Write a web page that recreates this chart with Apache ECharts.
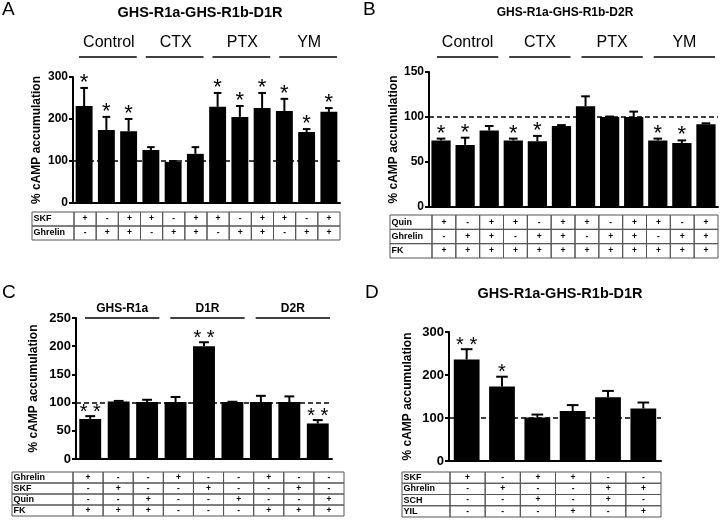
<!DOCTYPE html>
<html><head><meta charset="utf-8">
<script src="https://cdn.jsdelivr.net/npm/echarts@6/dist/echarts.min.js"></script>
<style>html,body{margin:0;padding:0;background:#fff}#c{width:722px;height:520px}</style>
</head><body><div id="c"></div>
<script>
const FONT = 'Arial, "Liberation Sans", sans-serif';

// ---------- Panel A ----------
const aTitle = 'GHS-R1a-GHS-R1b-D1R';
const aGroups = ['Control', 'CTX', 'PTX', 'YM'];
const aCategories = ['Ctrl SKF','Ctrl Ghrelin','Ctrl SKF+Ghrelin','CTX SKF','CTX Ghrelin','CTX SKF+Ghrelin','PTX SKF','PTX Ghrelin','PTX SKF+Ghrelin','YM SKF','YM Ghrelin','YM SKF+Ghrelin'];
const aValues = [231, 174, 171, 126, 98, 117, 229, 205, 226, 219, 169, 217];
const aErrors = [43, 31, 29, 7, 2, 16, 33, 26, 36, 29, 7, 9];
const aSignif = ['*','*','*','','','','*','*','*','*','*','*'];
const aYTicks = [0, 100, 200, 300];
const aRowNames = ['SKF', 'Ghrelin'];
const aRowSKF     = ['+','-','+','+','-','+','+','-','+','+','-','+'];
const aRowGhrelin = ['-','+','+','-','+','+','-','+','+','-','+','+'];

// ---------- Panel B ----------
const bTitle = 'GHS-R1a-GHS-R1b-D2R';
const bGroups = ['Control', 'CTX', 'PTX', 'YM'];
const bCategories = ['Ctrl Quin','Ctrl Ghrelin','Ctrl Quin+Ghrelin','CTX Quin','CTX Ghrelin','CTX Quin+Ghrelin','PTX Quin','PTX Ghrelin','PTX Quin+Ghrelin','YM Quin','YM Ghrelin','YM Quin+Ghrelin'];
const bValues = [74, 69, 85, 74, 73, 90, 112, 100, 100, 74, 71, 92];
const bErrors = [2, 8, 5, 2, 6, 1, 11, 0.5, 6, 2, 3, 1];
const bSignif = ['*','*','','*','*','','','','','*','*',''];
const bYTicks = [0, 50, 100, 150];
const bRowNames = ['Quin', 'Ghrelin', 'FK'];
const bRowQuin    = ['+','-','+','+','-','+','+','-','+','+','-','+'];
const bRowGhrelin = ['-','+','+','-','+','+','-','+','+','-','+','+'];
const bRowFK      = ['+','+','+','+','+','+','+','+','+','+','+','+'];

// ---------- Panel C ----------
const cGroups = ['GHS-R1a', 'D1R', 'D2R'];
const cCategories = ['R1a Ghrelin','R1a SKF','R1a Quin','D1R Ghrelin','D1R SKF','D1R Quin','D2R Ghrelin','D2R SKF','D2R Quin'];
const cValues = [71, 102, 101, 101, 200, 101, 101, 101, 63];
const cErrors = [5, 1, 4, 9, 7, 0.5, 11, 10, 6];
const cSignif = ['**','','','','**','','','','**'];
const cYTicks = [0, 50, 100, 150, 200, 250];
const cRowNames = ['Ghrelin', 'SKF', 'Quin', 'FK'];
const cRowGhrelin = ['+','-','-','+','-','-','+','-','-'];
const cRowSKF     = ['-','+','-','-','+','-','-','+','-'];
const cRowQuin    = ['-','-','+','-','-','+','-','-','+'];
const cRowFK      = ['+','+','+','-','-','-','+','+','+'];

// ---------- Panel D ----------
const dTitle = 'GHS-R1a-GHS-R1b-D1R';
const dCategories = ['SKF','Ghrelin','SKF+SCH','SKF+YIL','Ghrelin+SCH','Ghrelin+YIL'];
const dValues = [236, 173, 101, 116, 148, 122];
const dErrors = [24, 23, 7, 14, 15, 14];
const dSignif = ['**','*','','','',''];
const dYTicks = [0, 100, 200, 300];
const dRowNames = ['SKF', 'Ghrelin', 'SCH', 'YIL'];
const dRowSKF     = ['+','-','+','+','-','-'];
const dRowGhrelin = ['-','+','-','-','+','+'];
const dRowSCH     = ['-','-','+','-','+','-'];
const dRowYIL     = ['-','-','-','+','-','+'];

// ---------- build ----------
const option = {
  animation: false,
  backgroundColor: '#fff',
  textStyle: { fontFamily: FONT },
  title: [], grid: [], xAxis: [], yAxis: [], series: []
};

function addText(text, x, y, size, weight, align) {
  option.title.push({
    text: text, left: x, top: y, padding: 0, textAlign: align || 'left',
    textStyle: { fontSize: size, fontWeight: weight, color: '#000', fontFamily: FONT }
  });
}

function addPanel(p) {
  const gi = option.grid.length;
  option.grid.push({ left: p.plot[0], top: p.plot[1], width: p.plot[2], height: p.plot[3], containLabel: false, outerBoundsMode: 'none' });
  option.xAxis.push({
    type: 'category', gridIndex: gi, data: p.categories,
    axisLine: { lineStyle: { color: '#000', width: 2 } },
    axisTick: { show: false }, axisLabel: { show: false }, splitLine: { show: false }
  });
  option.yAxis.push({
    type: 'value', gridIndex: gi,
    min: p.yTicks[0], max: p.yTicks[p.yTicks.length - 1], interval: p.yTicks[1] - p.yTicks[0],
    name: '% cAMP accumulation', nameLocation: 'middle', nameRotate: 90, nameGap: p.nameGap,
    nameTextStyle: { color: '#000', fontWeight: 'bold', fontSize: 12, fontFamily: FONT },
    axisLine: { show: true, lineStyle: { color: '#000', width: 2 } },
    axisTick: { show: true, length: 4, lineStyle: { color: '#000', width: 2 } },
    axisLabel: { color: '#000', fontWeight: 'bold', fontSize: p.tickFont, fontFamily: FONT, margin: 5 },
    splitLine: { show: false }
  });
  option.series.push({
    type: 'bar', xAxisIndex: gi, yAxisIndex: gi, data: p.values, barWidth: (p.barRatio * 100) + '%',
    itemStyle: { color: '#000' }, silent: true,
    markLine: {
      silent: true, symbol: 'none', label: { show: false },
      lineStyle: { color: '#000', type: [5, 3], width: 1.5 },
      data: [{ yAxis: 100 }]
    }
  });
  // error bars + significance stars
  option.series.push({
    type: 'custom', xAxisIndex: gi, yAxisIndex: gi, clip: false, silent: true,
    data: p.values.map((v, i) => [i, v, p.errors[i]]),
    renderItem: function (params, api) {
      const i = api.value(0), v = api.value(1), e = api.value(2);
      const base = api.coord([i, v]);
      const top = api.coord([i, v + e]);
      const bw = api.size([1, 0])[0] * p.barRatio;
      const cw = bw * 0.45;
      const children = [
        { type: 'line', shape: { x1: base[0], y1: base[1], x2: top[0], y2: top[1] }, style: { stroke: '#000', lineWidth: 2 } },
        { type: 'line', shape: { x1: top[0] - cw / 2, y1: top[1], x2: top[0] + cw / 2, y2: top[1] }, style: { stroke: '#000', lineWidth: 2 } }
      ];
      const s = p.signif[params.dataIndex];
      if (s) {
        children.push({ type: 'text', style: {
          text: s.split('').join(' '), x: top[0], y: top[1] - p.starGap, align: 'center', verticalAlign: 'top',
          fontSize: p.starSize, fontFamily: FONT, fill: '#000'
        } });
      }
      return { type: 'group', children: children };
    }
  });
  // group headers
  if (p.groups) {
    const gs = p.categories.length / p.groups.length;
    option.series.push({
      type: 'custom', xAxisIndex: gi, yAxisIndex: gi, clip: false, silent: true,
      data: p.groups.map((g, k) => [k * gs, 0]),
      renderItem: function (params, api) {
        const k = params.dataIndex;
        const band = api.size([1, 0])[0];
        const x0 = api.coord([k * gs, 0])[0] - band / 2 + p.groupInset[0];
        const x1 = api.coord([k * gs + gs - 1, 0])[0] + band / 2 - p.groupInset[1];
        const y = params.coordSys.y - p.groupLine;
        return { type: 'group', children: [
          { type: 'line', shape: { x1: x0, y1: y, x2: x1, y2: y }, style: { stroke: '#000', lineWidth: 1.5 } },
          { type: 'text', style: { text: p.groups[k], x: (x0 + x1) / 2 + p.groupTextShift, y: y - p.groupText, align: 'center', verticalAlign: 'middle',
            fontSize: p.groupFont, fontWeight: p.groupWeight, fontFamily: FONT, fill: '#000' } }
        ] };
      }
    });
  }
  // table
  const ti = option.grid.length;
  option.grid.push({ left: p.table[0], top: p.table[1], width: p.table[2], height: p.table[3], containLabel: false, outerBoundsMode: 'none' });
  option.xAxis.push({ type: 'category', gridIndex: ti, data: p.categories, show: false });
  option.yAxis.push({ type: 'category', gridIndex: ti, data: p.rowNames, inverse: true, show: false });
  const cells = [];
  const cellText = [];
  p.rows.forEach((row, r) => row.forEach((t, c) => { cells.push([c, r]); cellText.push(t); }));
  option.series.push({
    type: 'custom', xAxisIndex: ti, yAxisIndex: ti, clip: false, silent: true, data: cells,
    renderItem: function (params, api) {
      const c = api.coord([api.value(0), api.value(1)]);
      const s = api.size([1, 1]);
      return { type: 'group', children: [
        { type: 'rect', shape: { x: c[0] - s[0] / 2, y: c[1] - s[1] / 2, width: s[0], height: s[1] }, style: { fill: 'none', stroke: '#555', lineWidth: 1 } },
        { type: 'text', style: { text: cellText[params.dataIndex], x: c[0], y: c[1], align: 'center', verticalAlign: 'middle',
          fontSize: 8.5, fontWeight: 'bold', fontFamily: FONT, fill: '#000' } }
      ] };
    }
  });
  option.series.push({
    type: 'custom', xAxisIndex: ti, yAxisIndex: ti, clip: false, silent: true,
    data: p.rowNames.map((n, r) => [0, r]),
    renderItem: function (params, api) {
      const c = api.coord([0, api.value(1)]);
      const s = api.size([1, 1]);
      const x0 = params.coordSys.x - p.labelW;
      return { type: 'group', children: [
        { type: 'rect', shape: { x: x0, y: c[1] - s[1] / 2, width: p.labelW, height: s[1] }, style: { fill: 'none', stroke: '#555', lineWidth: 1 } },
        { type: 'text', style: { text: p.rowNames[params.dataIndex], x: x0 + 1.5, y: c[1], align: 'left', verticalAlign: 'middle',
          fontSize: 9, fontWeight: 'bold', fontFamily: FONT, fill: '#000' } }
      ] };
    }
  });
}

addPanel({
  categories: aCategories, values: aValues, errors: aErrors, signif: aSignif, yTicks: aYTicks,
  groups: aGroups, rowNames: aRowNames, rows: [aRowSKF, aRowGhrelin],
  plot: [73, 77, 267, 126], table: [74, 212, 266, 28], labelW: 42,
  barRatio: 0.76, nameGap: 30, tickFont: 12, starSize: 22, starGap: 16,
  groupLine: 20, groupText: 14, groupInset: [6, 3], groupTextShift: 1, groupFont: 16, groupWeight: 'normal'
});
addPanel({
  categories: bCategories, values: bValues, errors: bErrors, signif: bSignif, yTicks: bYTicks,
  groups: bGroups, rowNames: bRowNames, rows: [bRowQuin, bRowGhrelin, bRowFK],
  plot: [429, 72, 289, 135], table: [432, 215, 286, 43], labelW: 42,
  barRatio: 0.8, nameGap: 26, tickFont: 12, starSize: 22, starGap: 16,
  groupLine: 15, groupText: 14, groupInset: [8, 3], groupTextShift: 0, groupFont: 16, groupWeight: 'normal'
});
addPanel({
  categories: cCategories, values: cValues, errors: cErrors, signif: cSignif, yTicks: cYTicks,
  groups: cGroups, rowNames: cRowNames, rows: [cRowGhrelin, cRowSKF, cRowQuin, cRowFK],
  plot: [76, 318, 256, 141], table: [73, 472, 271, 44], labelW: 61,
  barRatio: 0.77, nameGap: 36, tickFont: 13, starSize: 20, starGap: 14,
  groupLine: 0, groupText: 9, groupInset: [9, 2], groupTextShift: 0, groupFont: 12, groupWeight: 'bold'
});
addPanel({
  categories: dCategories, values: dValues, errors: dErrors, signif: dSignif, yTicks: dYTicks,
  groups: null, rowNames: dRowNames, rows: [dRowSKF, dRowGhrelin, dRowSCH, dRowYIL],
  plot: [449, 332, 212, 129], table: [450, 472, 211, 45], labelW: 48,
  barRatio: 0.73, nameGap: 35, tickFont: 13, starSize: 20, starGap: 14,
  groupLine: 0, groupText: 0, groupInset: [0, 0], groupTextShift: 0, groupFont: 12, groupWeight: 'bold'
});

addText('A', 2, 0, 19, 'normal');
addText('B', 363, 0, 19, 'normal');
addText('C', 2, 283, 19, 'normal');
addText('D', 365, 283, 19, 'normal');
addText(aTitle, 200, 5, 14.5, 'bold', 'center');
addText(bTitle, 565, 7, 12, 'bold', 'center');
addText(dTitle, 560, 286, 14.5, 'bold', 'center');

const chart = echarts.init(document.getElementById('c'), null, { renderer: 'canvas' });
chart.setOption(option);
</script></body></html>
